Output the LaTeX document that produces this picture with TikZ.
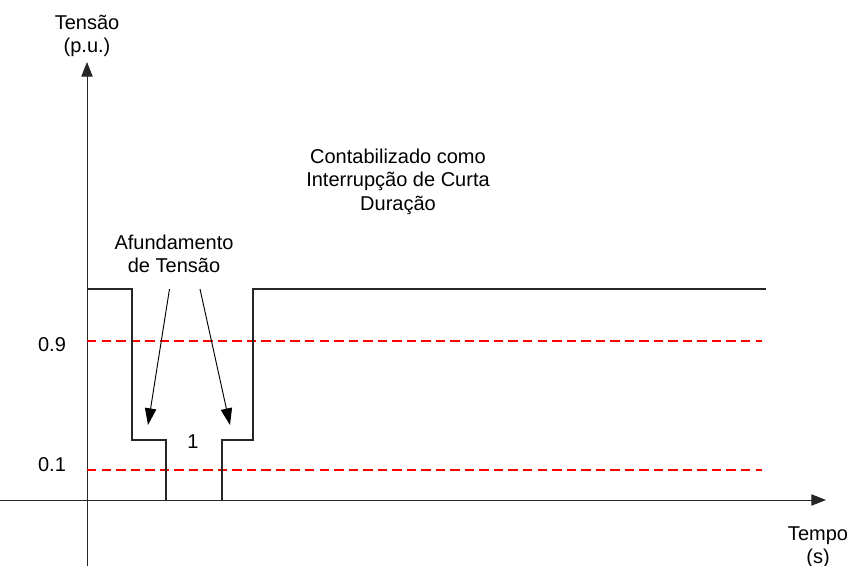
\documentclass[tikz,border=0pt]{standalone}
\usepackage{fontspec}
\setmainfont{Liberation Sans}
\usetikzlibrary{arrows.meta}
\begin{document}
\begin{tikzpicture}[x=0.75pt,y=-0.75pt,
  lbl/.style={inner sep=0pt,font=\fontsize{15}{17.6}\selectfont,align=center},
  sig/.style={line width=0.8pt,black!85},
  axis/.style={line width=0.7pt,black!85,-{Triangle[length=11pt,width=8.5pt]}},
  ptr/.style={line width=0.7pt,black,-{Triangle[length=12.5pt,width=8.5pt]}},
  lim/.style={line width=0.8pt,red,dash pattern=on 7.1pt off 3.8pt}]
\useasboundingbox (0,0) rectangle (850,566);
% axes
\coordinate (yb) at (87,566);
\coordinate (yt) at (87,62);
\coordinate (xl) at (0,500);
\coordinate (xr) at (826,500);
\draw[axis] (yb) -- (yt);
\draw[axis] (xl) -- (xr);
% limit lines
\coordinate (l9a) at (87,341);
\coordinate (l9b) at (762,341);
\coordinate (l1a) at (87,470);
\coordinate (l1b) at (762,470);
\draw[lim] (l9a) -- (l9b);
\draw[lim] (l1a) -- (l1b);
% signal
\coordinate (s0) at (87,289);
\coordinate (s1) at (132,289);
\coordinate (s2) at (132,440);
\coordinate (s3) at (166,440);
\coordinate (s4) at (166,500);
\coordinate (t0) at (222,500);
\coordinate (t1) at (222,440);
\coordinate (t2) at (253,440);
\coordinate (t3) at (253,289);
\coordinate (t4) at (766,289);
\draw[sig] (s0) -- (s1) -- (s2) -- (s3) -- (s4);
\draw[sig] (t0) -- (t1) -- (t2) -- (t3) -- (t4);
% labels
\node[lbl,anchor=north] (ylab) at (87,14.5) {Tensão\\(p.u.)};
\node[lbl,anchor=north] (xlab) at (818,526.5) {Tempo\\(s)};
\node[lbl,anchor=base] (v9) at (52,352) {0.9};
\node[lbl,anchor=base] (v1) at (52,472) {0.1};
\node[lbl,anchor=base] (one) at (193,449) {1};
\node[lbl,anchor=north] (afund) at (174,234.5) {Afundamento\\de Tensão};
\node[lbl,anchor=north] (cont) at (398,148.5) {Contabilizado como\\Interrupção de Curta\\Duração};
% pointers
\coordinate (pa) at (169.5,289);
\coordinate (pb) at (200,289);
\coordinate (qa) at (148,425);
\coordinate (qb) at (230,425);
\draw[ptr] (pa) -- (qa);
\draw[ptr] (pb) -- (qb);
\end{tikzpicture}
\end{document}
